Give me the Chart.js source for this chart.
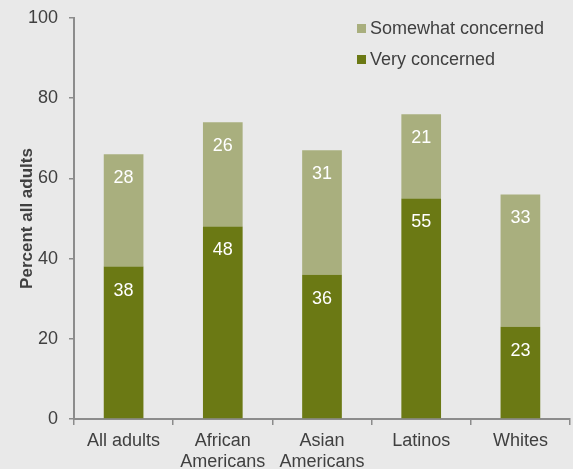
<!DOCTYPE html>
<html>
<head>
<meta charset="utf-8">
<script src="https://cdn.jsdelivr.net/npm/chart.js@4"></script>
<style>
  html, body { margin: 0; padding: 0; background: #e9e9e9; }
  #wrap { width: 573px; height: 469px; position: relative; }
</style>
</head>
<body>
<div id="wrap"><canvas id="chart"></canvas></div>
<script>
var categories = [['All adults'], ['African', 'Americans'], ['Asian', 'Americans'], ['Latinos'], ['Whites']];
var veryConcerned = [38, 48, 36, 55, 23];
var somewhatConcerned = [28, 26, 31, 21, 33];
var yTicks = [0, 20, 40, 60, 80, 100];

var darkGreen = '#6b7914';
var lightGreen = '#a9af7e';
var textColor = '#404040';
var axisColor = '#8c8c8c';
var fontFamily = '"Liberation Sans", Arial, sans-serif';

// white numbers near the top of each segment
var barLabels = {
    id: 'barLabels',
    afterDatasetsDraw: function(chart) {
        var ctx = chart.ctx;
        ctx.save();
        ctx.fillStyle = '#ffffff';
        ctx.font = '18px ' + fontFamily;
        ctx.textAlign = 'center';
        ctx.textBaseline = 'middle';
        chart.data.datasets.forEach(function(ds, i) {
            var meta = chart.getDatasetMeta(i);
            meta.data.forEach(function(bar, j) {
                ctx.fillText(ds.data[j], bar.x, bar.y + 24);
            });
        });
        ctx.restore();
    }
};

// legend drawn at the top right, somewhat first
var cornerLegend = {
    id: 'cornerLegend',
    afterDraw: function(chart) {
        var ctx = chart.ctx;
        var items = chart.data.datasets.slice().reverse();
        ctx.save();
        ctx.font = '18px ' + fontFamily;
        ctx.textBaseline = 'middle';
        items.forEach(function(ds, i) {
            var y = 28 + i * 31;
            ctx.fillStyle = ds.backgroundColor;
            ctx.fillRect(357, y - 4, 9, 9);
            ctx.fillStyle = textColor;
            ctx.fillText(ds.label, 370, y + 1);
        });
        ctx.restore();
    }
};

new Chart(document.getElementById('chart'), {
    type: 'bar',
    data: {
        labels: categories,
        datasets: [
            {
                label: 'Very concerned',
                data: veryConcerned,
                backgroundColor: darkGreen,
                barPercentage: 0.8,
                categoryPercentage: 0.5
            },
            {
                label: 'Somewhat concerned',
                data: somewhatConcerned,
                backgroundColor: lightGreen,
                barPercentage: 0.8,
                categoryPercentage: 0.5
            }
        ]
    },
    options: {
        responsive: true,
        maintainAspectRatio: false,
        animation: false,
        layout: { padding: { top: 18, right: 3, bottom: 0, left: 0 } },
        scales: {
            x: {
                stacked: true,
                grid: {
                    drawOnChartArea: false,
                    drawTicks: true,
                    tickLength: 6,
                    color: axisColor,
                    lineWidth: 1.5
                },
                border: { color: axisColor, width: 2 },
                ticks: {
                    color: textColor,
                    font: { family: fontFamily, size: 18, lineHeight: 1.15 },
                    padding: 6,
                    maxRotation: 0,
                    autoSkip: false
                },
                afterFit: function(scale) { scale.height = 50; }
            },
            y: {
                stacked: true,
                min: 0,
                max: 100,
                afterBuildTicks: function(scale) {
                    scale.ticks = yTicks.map(function(v) { return { value: v }; });
                },
                grid: {
                    drawOnChartArea: false,
                    drawTicks: true,
                    tickLength: 5,
                    color: axisColor,
                    lineWidth: 1.5
                },
                border: { color: axisColor, width: 2 },
                ticks: {
                    color: textColor,
                    font: { family: fontFamily, size: 18 },
                    padding: 11
                },
                title: {
                    display: true,
                    text: 'Percent all adults',
                    color: textColor,
                    font: { family: fontFamily, size: 17, weight: 'bold' },
                    padding: { top: 17, bottom: 0 }
                },
                afterFit: function(scale) {
                    scale.width = 74;
                    scale.paddingTop = 0;
                    scale.paddingBottom = 0;
                }
            }
        },
        plugins: {
            legend: { display: false },
            tooltip: { enabled: false }
        }
    },
    plugins: [barLabels, cornerLegend]
});
</script>
</body>
</html>
